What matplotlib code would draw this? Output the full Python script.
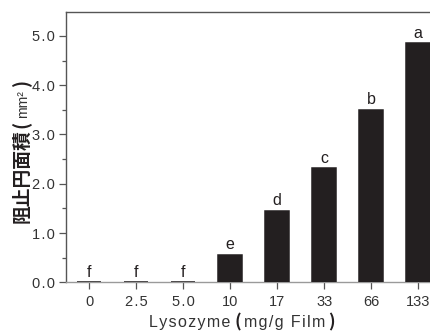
import matplotlib
matplotlib.use('Agg')
import matplotlib.pyplot as plt
from matplotlib.ticker import MultipleLocator

categories = ['0', '2.5', '5.0', '10', '17', '33', '66', '133']
values = [0.0, 0.0, 0.0, 0.56, 1.45, 2.31, 3.50, 4.85]
letters = ['f', 'f', 'f', 'e', 'd', 'c', 'b', 'a']
yticks = [0.0, 1.0, 2.0, 3.0, 4.0, 5.0]
ytick_labels = ['0.0', '1.0', '2.0', '3.0', '4.0', '5.0']
xlabel_parts = ['Lysozyme', '(', 'mg/g Film', ')']
ylabel_parts = ['阻止円面積', '(', 'mm²', ')']

LAT = ['Liberation Sans', 'DejaVu Sans', 'Noto Sans CJK JP']
plt.rcParams['font.family'] = LAT


def spaced(s):
    # wide letter tracking as in the reference typography
    return s.replace('.', '\u200a.\u200a')


def tracked(s):
    return '\u200a'.join(s)


W, H = 431, 334
fig = plt.figure(figsize=(W / 100, H / 100), dpi=100)
ax = fig.add_axes([65.7 / W, 51.7 / H, 376 / W, 270 / H])

x = list(range(len(categories)))
ax.bar(x, values, width=0.52, color='#231f20', edgecolor='#231f20',
       linewidth=1.1, zorder=3)
for xi, v, lab in zip(x, values, letters):
    ax.annotate(lab, (xi, v), xytext=(0, 2), textcoords='offset points',
                ha='center', va='bottom', fontsize=11.5, color='#231f20')

ax.set_xlim(-0.5, 7.5)
ax.set_ylim(0, 5.48)
ax.set_xticks(x)
ax.set_xticklabels([spaced(c) for c in categories], fontsize=10.5, color='#333333')
ax.set_yticks(yticks)
ax.set_yticklabels([spaced(t) for t in ytick_labels], fontsize=10.5, color='#333333')
ax.yaxis.set_minor_locator(MultipleLocator(0.5))

for s in ['left', 'top', 'right']:
    ax.spines[s].set_color('#555555')
    ax.spines[s].set_linewidth(1.0)
ax.spines['bottom'].set_color('#9a9a9a')
ax.spines['bottom'].set_linewidth(1.0)

ax.tick_params(axis='both', which='major', direction='out', length=5,
               width=0.9, color='#555555', pad=3)
ax.tick_params(axis='y', which='minor', direction='out', length=3,
               width=0.9, color='#555555')
ax.tick_params(axis='x', which='major', pad=4)

fig.canvas.draw()
r = fig.canvas.get_renderer()

# x label: regular text with heavy parentheses, laid out left to right
xl_styles = [dict(fontsize=11.5, color='#333333', family=LAT),
             dict(fontsize=12.5, color='#231f20', fontweight='bold', family=['Noto Sans CJK JP']),
             dict(fontsize=11.5, color='#333333', family=LAT),
             dict(fontsize=12.5, color='#231f20', fontweight='bold', family=['Noto Sans CJK JP'])]
xl_gaps = [0, 4, 3, 3]
yb = (H - 327) / H
texts = []
cur = 0.0
for part, st, gap in zip(xlabel_parts, xl_styles, xl_gaps):
    txt = part if part in '()' else tracked(part)
    t = fig.text((cur + gap) / W, yb, txt, ha='left', va='baseline', **st)
    bb = t.get_window_extent(r)
    cur = bb.x1
    texts.append(t)
total_w = cur
shift = 242 - total_w / 2
for t in texts:
    px, py = t.get_position()
    t.set_position((px + shift / W, py))

# y label composed of bold CJK part and smaller unit, bottom to top
xc = 22 / W
yl_styles = [dict(fontsize=13.5, fontweight='bold', color='#231f20', family=['Noto Sans CJK JP']),
             dict(fontsize=13.5, fontweight='bold', color='#231f20', family=['Noto Sans CJK JP']),
             dict(fontsize=10, color='#333333', family=['Liberation Sans', 'DejaVu Sans']),
             dict(fontsize=13.5, fontweight='bold', color='#231f20', family=['Noto Sans CJK JP'])]
yl_gaps = [0, 1, 3, 3]
yl_dx = [0, 0, 1, 0]
cur = H - 223
for part, st, gap, dx in zip(ylabel_parts, yl_styles, yl_gaps, yl_dx):
    t = fig.text(xc + dx / W, (cur + gap) / H, part, rotation=90, ha='center',
                 va='bottom', **st)
    cur = t.get_window_extent(r).y1

fig.savefig('out.png', dpi=100)
